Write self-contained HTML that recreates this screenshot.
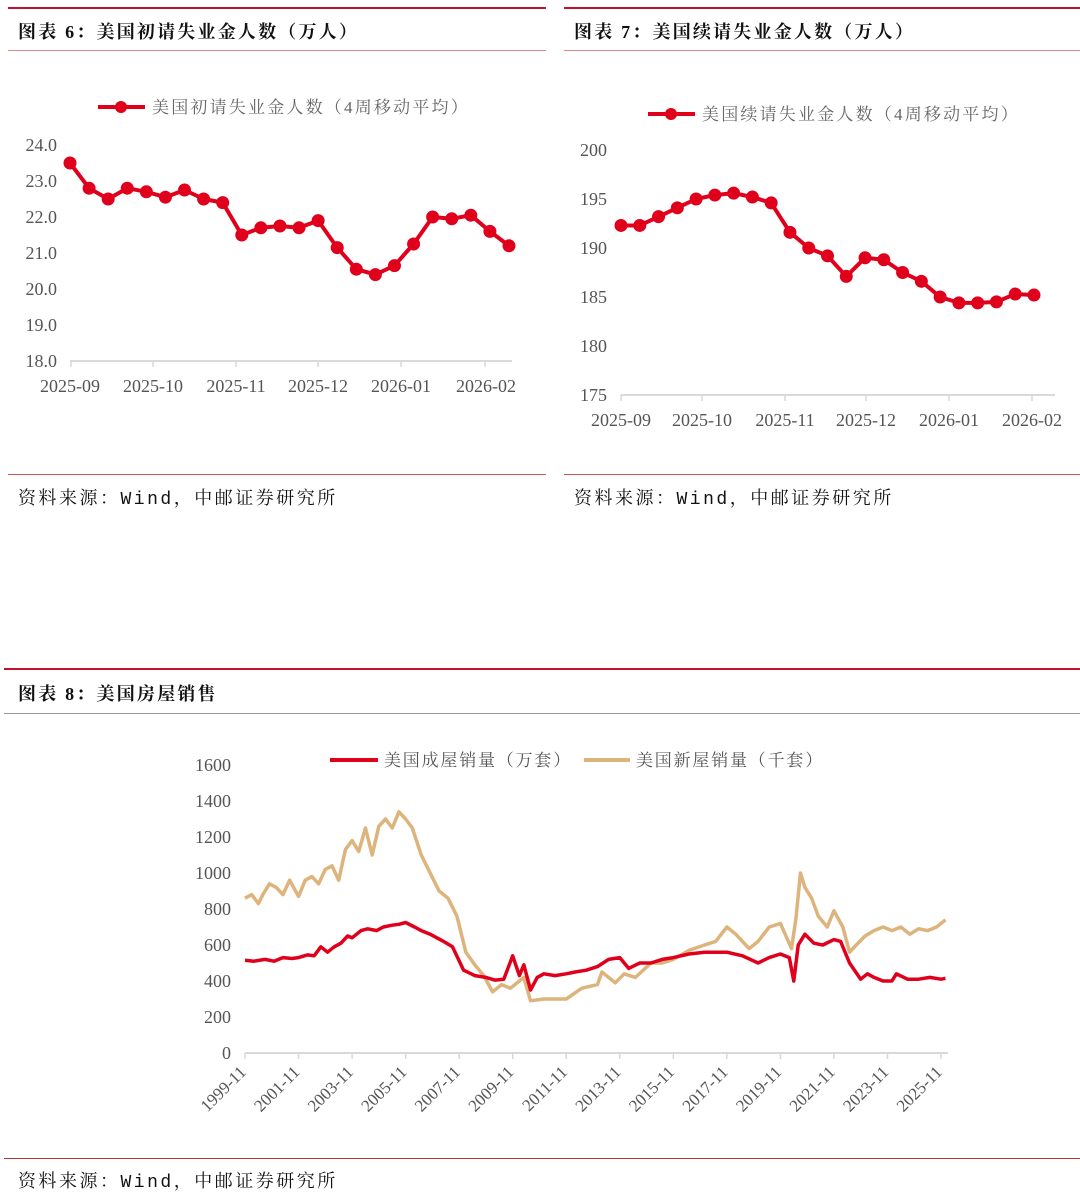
<!DOCTYPE html>
<html><head><meta charset="utf-8">
<style>
body{margin:0;background:#fff;width:1080px;height:1196px;position:relative;overflow:hidden;font-family:"Liberation Serif","Noto Serif CJK SC",serif;}
.t{position:absolute;font-family:"Liberation Serif","Noto Serif CJK SC",serif;font-weight:bold;font-size:18px;color:#111;white-space:nowrap;letter-spacing:2.2px;}
.s{position:absolute;font-family:"Liberation Mono","Noto Serif CJK SC",monospace;font-size:18px;color:#111;white-space:nowrap;letter-spacing:2.5px;}
.ln{position:absolute;}
svg{position:absolute;left:0;top:0;}
</style></head><body>
<div class="ln" style="left:8px;top:7px;width:538px;height:2px;background:#c8102e"></div>
<div class="ln" style="left:564px;top:7px;width:516px;height:2px;background:#c8102e"></div>
<div class="t" style="left:18px;top:18px">图表 6：美国初请失业金人数（万人）</div>
<div class="t" style="left:574px;top:18px">图表 7：美国续请失业金人数（万人）</div>
<div class="ln" style="left:8px;top:50px;width:538px;height:1px;background:#d88"></div>
<div class="ln" style="left:564px;top:50px;width:516px;height:1px;background:#d88"></div>
<div class="ln" style="left:8px;top:474px;width:538px;height:1px;background:#c55"></div>
<div class="ln" style="left:564px;top:474px;width:516px;height:1px;background:#c55"></div>
<div class="s" style="left:18px;top:484px">资料来源：Wind，中邮证券研究所</div>
<div class="s" style="left:574px;top:484px">资料来源：Wind，中邮证券研究所</div>
<div class="ln" style="left:4px;top:668px;width:1076px;height:2px;background:#c8102e"></div>
<div class="t" style="left:18px;top:680px">图表 8：美国房屋销售</div>
<div class="ln" style="left:4px;top:713px;width:1076px;height:1px;background:#999"></div>
<div class="ln" style="left:4px;top:1158px;width:1076px;height:1px;background:#b33"></div>
<div class="s" style="left:18px;top:1167px">资料来源：Wind，中邮证券研究所</div>
<svg id="svg" width="1080" height="1196"></svg>
<script>
// Chart 6 data
const c6Values=[23.5,22.8,22.5,22.8,22.7,22.55,22.75,22.5,22.4,21.5,21.7,21.75,21.7,21.9,21.15,20.55,20.4,20.65,21.25,22.0,21.95,22.05,21.6,21.2];
const c6Ticks=["18.0","19.0","20.0","21.0","22.0","23.0","24.0"];
const c6XLabels=["2025-09","2025-10","2025-11","2025-12","2026-01","2026-02"];
// Chart 7 data
const c7Values=[192.3,192.3,193.2,194.1,195.0,195.4,195.6,195.2,194.6,191.6,190.0,189.2,187.1,189.0,188.8,187.5,186.6,185.0,184.4,184.4,184.5,185.3,185.2];
const c7Ticks=["175","180","185","190","195","200"];
const c7XLabels=["2025-09","2025-10","2025-11","2025-12","2026-01","2026-02"];
// Chart 8 data
const existDates=["1999-11","2000-03","2000-08","2000-12","2001-04","2001-08","2001-11","2002-03","2002-06","2002-09","2002-12","2003-03","2003-06","2003-09","2003-11","2004-03","2004-06","2004-10","2005-01","2005-05","2005-08","2005-11","2006-03","2006-06","2006-10","2007-01","2007-04","2007-08","2008-01","2008-06","2008-11","2009-03","2009-07","2009-11","2010-02","2010-04","2010-07","2010-10","2011-01","2011-06","2011-11","2012-03","2012-08","2013-01","2013-06","2013-11","2014-03","2014-08","2015-01","2015-06","2015-11","2016-06","2017-01","2017-06","2017-11","2018-06","2019-01","2019-06","2019-11","2020-03","2020-05","2020-07","2020-10","2021-02","2021-06","2021-11","2022-02","2022-06","2022-11","2023-02","2023-05","2023-09","2024-01","2024-03","2024-08","2025-01","2025-06","2025-11","2026-01"];
const existValues=[515,510,520,510,530,525,530,545,540,590,560,590,610,650,640,680,690,680,700,710,715,725,700,680,660,640,620,590,460,430,420,405,410,540,430,490,350,420,440,430,440,450,460,480,520,530,470,500,500,520,530,550,560,560,560,540,500,530,550,530,400,600,660,610,600,630,620,500,410,440,420,400,400,440,410,410,420,410,415];
const newDates=["1999-11","2000-02","2000-05","2000-07","2000-10","2001-01","2001-04","2001-07","2001-11","2002-02","2002-05","2002-08","2002-11","2003-02","2003-05","2003-08","2003-11","2004-02","2004-05","2004-08","2004-11","2005-02","2005-05","2005-08","2005-11","2006-02","2006-06","2006-10","2007-02","2007-06","2007-10","2008-02","2008-06","2008-10","2009-02","2009-06","2009-10","2010-02","2010-04","2010-07","2011-01","2011-06","2011-11","2012-06","2013-01","2013-03","2013-09","2014-01","2014-06","2015-01","2015-06","2015-11","2016-06","2017-01","2017-06","2017-11","2018-03","2018-09","2019-01","2019-06","2019-11","2020-04","2020-06","2020-08","2020-10","2021-01","2021-04","2021-08","2021-11","2022-03","2022-06","2022-09","2023-01","2023-05","2023-09","2024-01","2024-05","2024-09","2025-01","2025-05","2025-09","2026-01"];
const newValues=[860,880,830,880,940,920,880,960,870,960,980,940,1020,1040,960,1130,1180,1120,1250,1100,1260,1300,1250,1340,1300,1250,1100,1000,900,860,760,560,490,430,340,380,360,400,420,290,300,300,300,360,380,450,390,440,420,500,500,520,570,600,620,700,660,580,620,700,720,580,750,1000,920,860,760,700,790,700,560,600,650,680,700,680,700,660,690,680,700,740];
const newTicks=[0,200,400,600,800,1000,1200,1400,1600];
const xLabels8=["1999-11","2001-11","2003-11","2005-11","2007-11","2009-11","2011-11","2013-11","2015-11","2017-11","2019-11","2021-11","2023-11","2025-11"];

const NS="http://www.w3.org/2000/svg";
const svg=document.getElementById('svg');
function mk(tag,attrs,parent){const e=document.createElementNS(NS,tag);for(const k in attrs)e.setAttribute(k,attrs[k]);(parent||svg).appendChild(e);return e;}
function txt(x,y,s,size,anchor,fill,parent,ls){const e=mk('text',{x:x,y:y,'font-size':size,'text-anchor':anchor||'start',fill:fill||'#555','font-family':'"Liberation Serif","Noto Serif CJK SC",serif'},parent);if(ls)e.setAttribute('letter-spacing',ls);e.textContent=s;return e;}

function smallChart(cfg){
  const g=mk('g',{});
  
  
  const ymin=+cfg.ticks[0],ymax=+cfg.ticks[cfg.ticks.length-1];
  const Y=v=>cfg.yBot-(v-ymin)/(ymax-ymin)*(cfg.yBot-cfg.yTop);
  const X=i=>cfg.x0+i*(cfg.x1-cfg.x0)/(cfg.values.length-1);
  cfg.ticks.forEach(t=>{const e=txt(cfg.labX,Y(+t)+6,t,18,'end','#555',g);
    
    });
  const ax=mk('line',{x1:cfg.x0,x2:cfg.axEnd,y1:cfg.yBot,y2:cfg.yBot,stroke:'#d9d9d9','stroke-width':2},g);
  
  
  cfg.xl.forEach((l,i)=>{const tx=cfg.tickX[i];
    mk('line',{x1:tx,x2:tx,y1:cfg.yBot,y2:cfg.yBot+6,stroke:'#d9d9d9','stroke-width':1.5},g);
    const e=txt(cfg.labPos[i],cfg.yBot+31,l,18,'middle','#555',g);
    
    });
  const p=mk('polyline',{points:cfg.values.map((v,i)=>X(i)+','+Y(v)).join(' '),fill:'none',stroke:'#e0001b','stroke-width':4,'stroke-linejoin':'round'},g);
  
  
  cfg.values.forEach((v,i)=>{const c=mk('circle',{cx:X(i),cy:Y(v),r:6.5,fill:'#e0001b'},g);
    
    });
  const lg=mk('g',{},g);
  
  
  mk('line',{x1:cfg.lgX,x2:cfg.lgX+47,y1:cfg.lgY,y2:cfg.lgY,stroke:'#e0001b','stroke-width':4},lg);
  mk('circle',{cx:cfg.lgX+23,cy:cfg.lgY,r:6,fill:'#e0001b'},lg);
  txt(cfg.lgX+54,cfg.lgY+6,cfg.lgText,17,'start','#666',lg,'2.2');
}
smallChart({name:'chart6-initial-claims',values:c6Values,ticks:c6Ticks,xl:c6XLabels,yTop:145,yBot:361,x0:70,x1:509,axEnd:512,labX:57,
  tickX:[71,153,236,318,401,485],labPos:[70,153,236,318,401,486],lgX:98,lgY:107,lgText:'美国初请失业金人数（4周移动平均）'});
smallChart({name:'chart7-continuing-claims',values:c7Values,ticks:c7Ticks,xl:c7XLabels,yTop:150,yBot:395,x0:621,x1:1034,axEnd:1055,labX:607,
  tickX:[621,702,785,866,949,1032],labPos:[621,702,785,866,949,1032],lgX:648,lgY:114,lgText:'美国续请失业金人数（4周移动平均）'});

// Chart 8
(function(){
  const g=mk('g',{});
  
  
  const yBot=1053,yTop=765,x0=245,x1=941;
  const Y=v=>yBot-v/1600*(yBot-yTop);
  const tnum=s=>{const[a,b]=s.split('-');return +a+(+b-1)/12;};
  const t0=tnum("1999-11"),t1=tnum("2025-11");
  const X=s=>x0+(tnum(s)-t0)/(t1-t0)*(x1-x0);
  newTicks.forEach(t=>{const e=txt(231,Y(t)+6,String(t),18,'end','#555',g);
    
    });
  const ax=mk('line',{x1:x0,x2:948,y1:yBot,y2:yBot,stroke:'#d9d9d9','stroke-width':2},g);
  
  
  xLabels8.forEach(l=>{const tx=X(l);
    mk('line',{x1:tx,x2:tx,y1:yBot,y2:yBot+6,stroke:'#d9d9d9','stroke-width':1.5},g);
    const e=txt(0,0,l,17,'end','#555',g);
    e.setAttribute('transform','translate('+(tx+2)+','+(yBot+20)+') rotate(-45)');
    
    });
  const pn=mk('polyline',{points:newDates.map((d,i)=>X(d)+','+Y(newValues[i])).join(' '),fill:'none',stroke:'#dcb47c','stroke-width':3.5,'stroke-linejoin':'round'},g);
  
  
  const pe=mk('polyline',{points:existDates.map((d,i)=>X(d)+','+Y(existValues[i])).join(' '),fill:'none',stroke:'#e0001b','stroke-width':3.5,'stroke-linejoin':'round'},g);
  
  
  const l1=mk('g',{},g);
  
  
  mk('line',{x1:330,x2:378,y1:760,y2:760,stroke:'#e0001b','stroke-width':4},l1);
  txt(384,766,'美国成屋销量（万套）',17,'start','#555',l1,'1.8');
  const l2=mk('g',{},g);
  
  
  mk('line',{x1:584,x2:630,y1:760,y2:760,stroke:'#dcb47c','stroke-width':4},l2);
  txt(636,766,'美国新屋销量（千套）',17,'start','#555',l2,'1.8');
})();
</script>
</body></html>
